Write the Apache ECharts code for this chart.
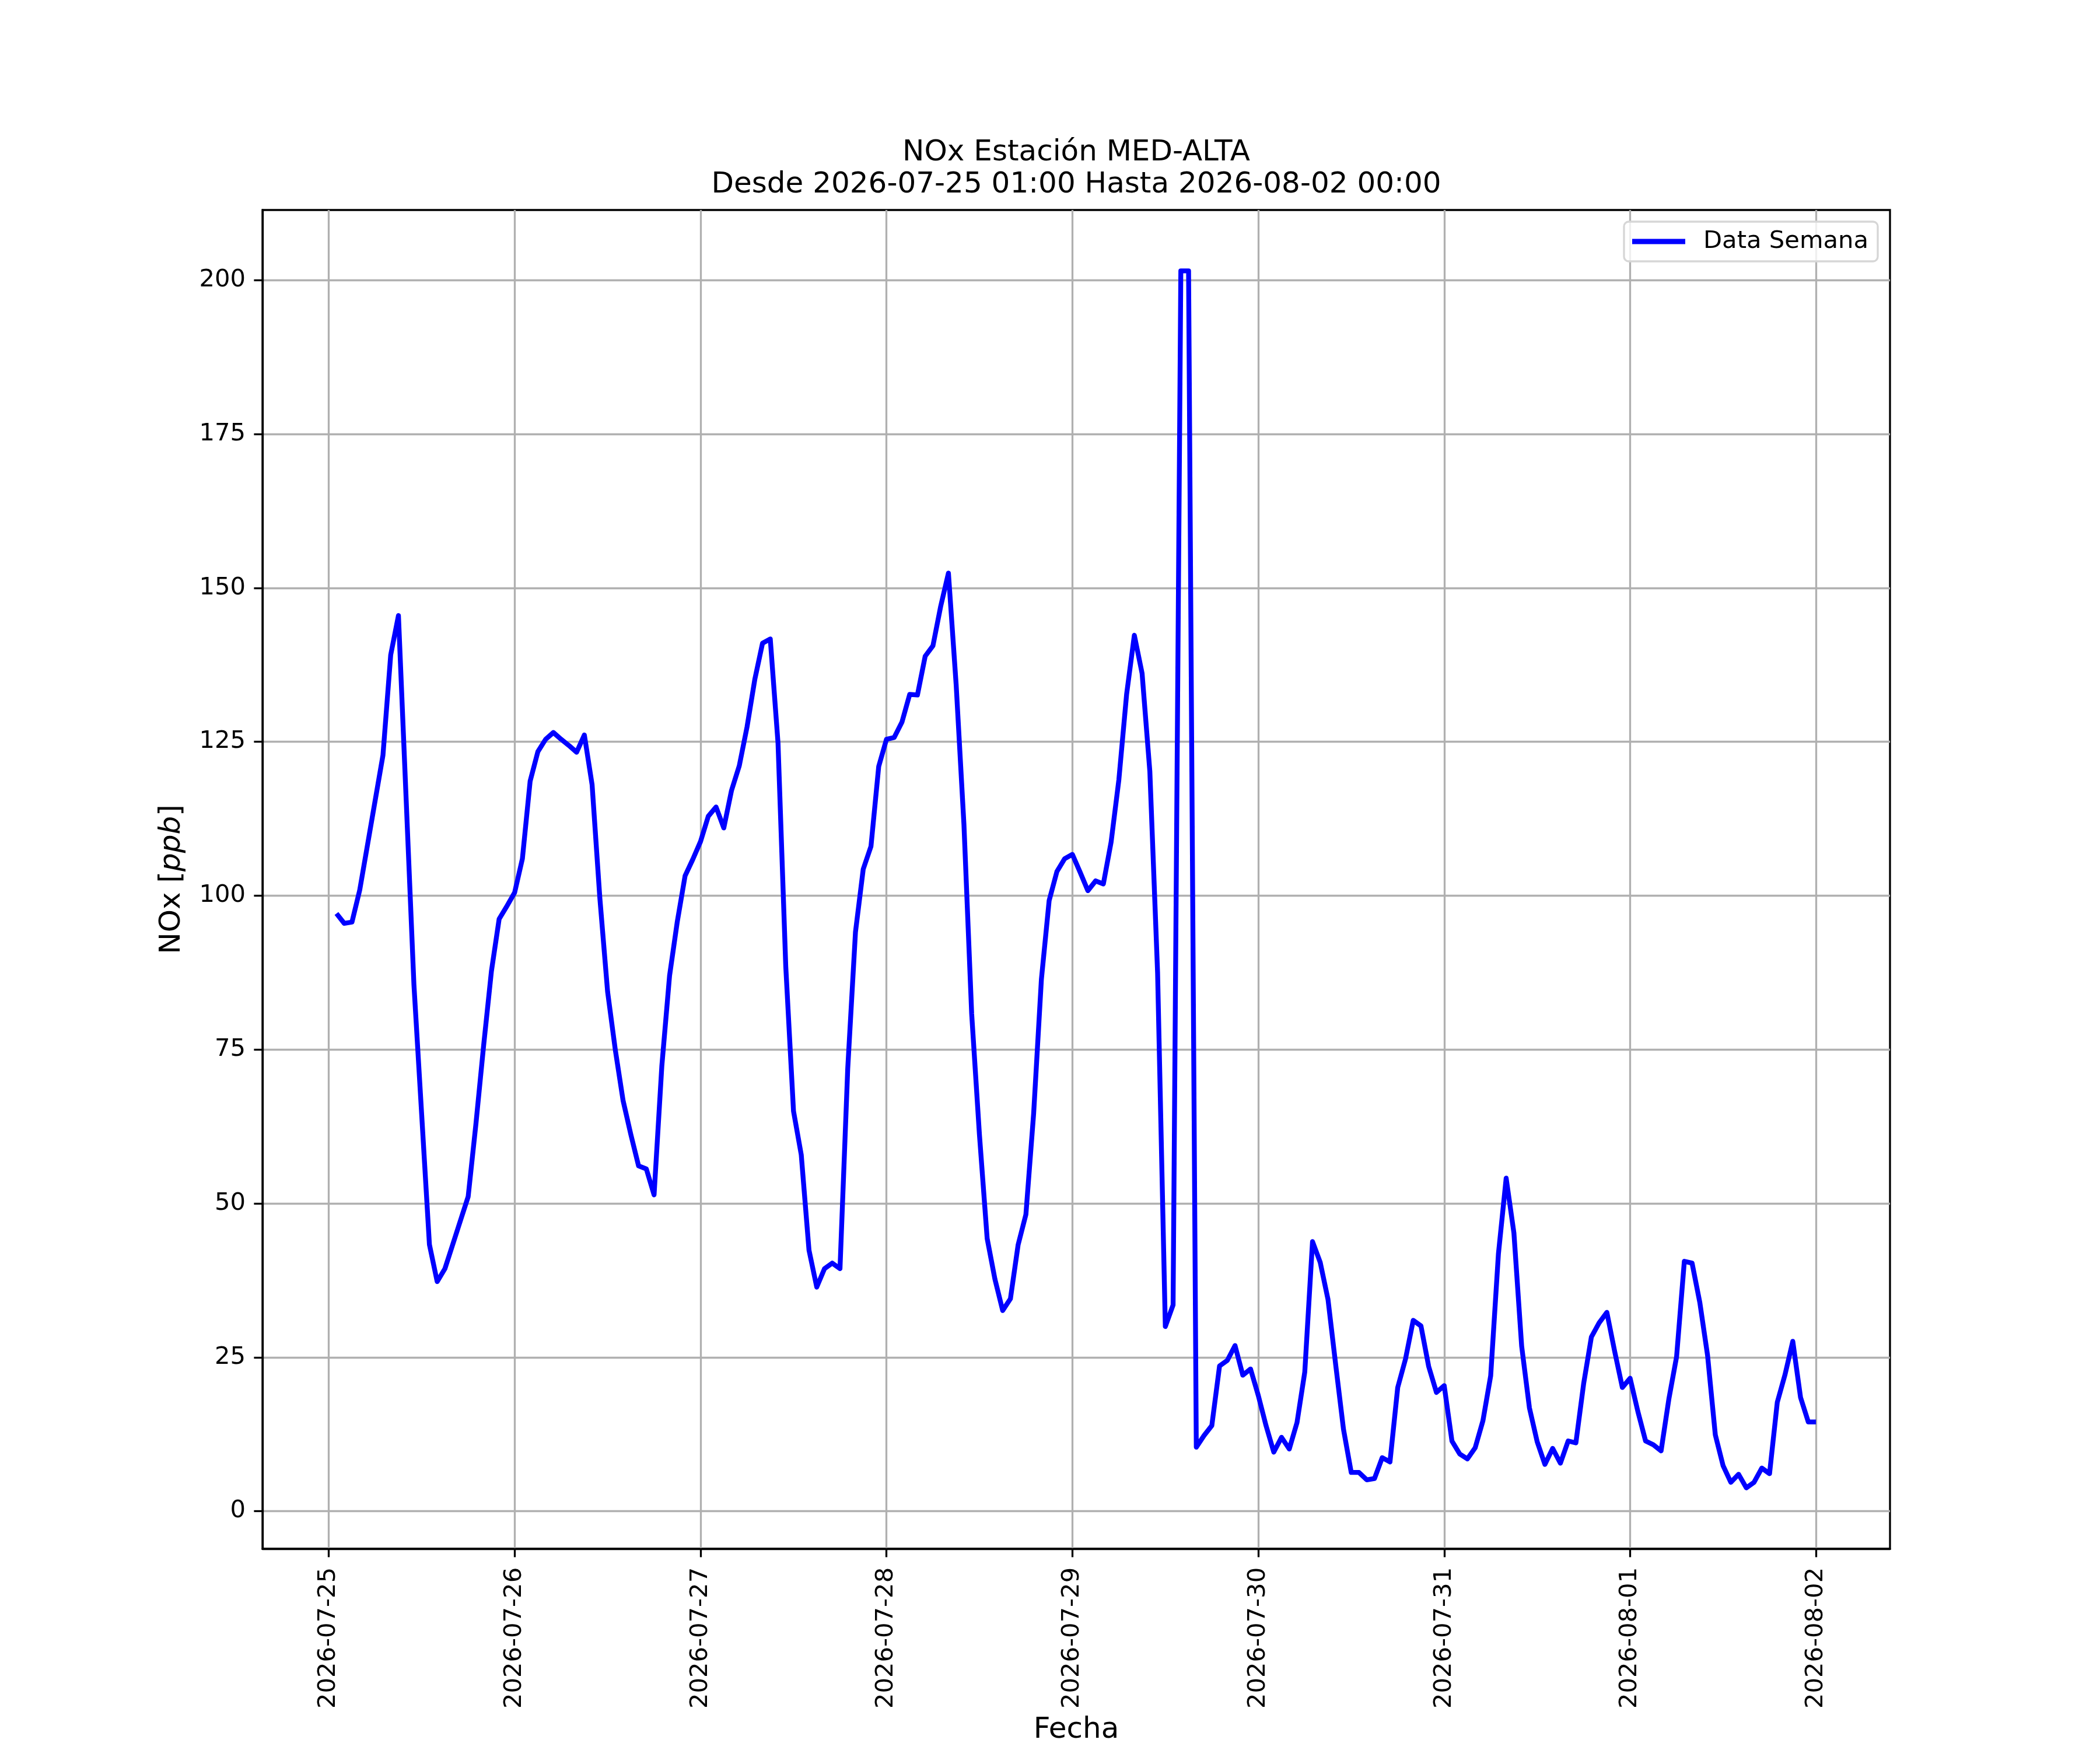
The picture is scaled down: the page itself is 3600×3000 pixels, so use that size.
<!DOCTYPE html>
<html>
<head>
<meta charset="utf-8">
<title>NOx Estación MED-ALTA</title>
<script src="https://cdn.jsdelivr.net/npm/echarts@6/dist/echarts.min.js"></script>
<style>
  html, body { margin: 0; padding: 0; background: #fff; }
  #chart { width: 3600px; height: 3000px; }
</style>
</head>
<body>
<div id="chart"></div>
<script>
// hourly NOx readings, 2026-07-25 01:00 .. 2026-08-02 00:00
var nox = [
    97.1, 95.5, 95.7, 100.9, 108.2, 115.5, 122.8, 139.1, 145.5, 115.5, 85.5, 64.4,
    43.3, 37.3, 39.4, 43.3, 47.2, 51.1, 62.9, 75.7, 87.7, 96.2, 98.3, 100.5,
    106.0, 118.6, 123.4, 125.4, 126.5, 125.4, 124.4, 123.3, 126.1, 118.0, 99.6, 84.4,
    74.9, 66.7, 61.2, 56.1, 55.6, 51.4, 72.3, 87.0, 95.8, 103.2, 105.9, 108.8,
    112.9, 114.4, 111.0, 117.1, 121.1, 127.4, 135.1, 141.0, 141.7, 124.8, 88.5, 65.0,
    57.9, 42.4, 36.4, 39.4, 40.3, 39.4, 71.9, 94.1, 104.3, 108.0, 121.0, 125.4,
    125.7, 128.2, 132.7, 132.6, 138.9, 140.6, 147.0, 152.4, 134.2, 111.6, 80.8, 61.2,
    44.3, 37.7, 32.6, 34.5, 43.3, 48.2, 64.6, 86.4, 99.2, 103.9, 106.0, 106.7,
    103.8, 100.8, 102.4, 101.9, 108.7, 118.8, 132.7, 142.3, 136.1, 120.2, 87.5, 30.0,
    33.5, 201.5, 201.5, 10.4, 12.3, 13.9, 23.6, 24.5, 26.9, 22.1, 23.1, 18.8,
    13.9, 9.6, 12.0, 10.1, 14.4, 22.6, 43.8, 40.4, 34.4, 23.7, 13.3, 6.3,
    6.3, 5.1, 5.3, 8.7, 8.0, 20.1, 24.7, 31.0, 30.1, 23.5, 19.3, 20.4,
    11.4, 9.3, 8.5, 10.3, 14.7, 22.0, 41.8, 54.1, 45.2, 26.8, 16.8, 11.3,
    7.6, 10.2, 7.8, 11.4, 11.1, 20.7, 28.3, 30.6, 32.3, 26.0, 20.1, 21.6,
    16.2, 11.4, 10.8, 9.8, 18.2, 25.1, 40.6, 40.3, 33.9, 25.3, 12.4, 7.4,
    4.7, 6.0, 3.8, 4.7, 7.0, 6.1, 17.7, 22.2, 27.6, 18.5, 14.5, 14.5
];
var dayLabels = ['2026-07-25', '2026-07-26', '2026-07-27', '2026-07-28', '2026-07-29',
                 '2026-07-30', '2026-07-31', '2026-08-01', '2026-08-02'];
var dayTicks = [0, 24, 48, 72, 96, 120, 144, 168, 192];   // hours since 07-25 00:00
var yTicks = [0, 25, 50, 75, 100, 125, 150, 175, 200];

var titleLines = ['NOx Estación MED-ALTA', 'Desde 2026-07-25 01:00 Hasta 2026-08-02 00:00'];

// x in hours from 2026-07-25 00:00
var points = [];
for (var i = 0; i < nox.length; i++) {
    points.push([i + 1, nox[i]]);
}

var FONT = 'DejaVu Sans';
var tickFont = 41.7;

var chart = echarts.init(document.getElementById('chart'), null, { renderer: 'canvas' });

chart.setOption({
    animation: false,
    backgroundColor: '#ffffff',
    textStyle: { fontFamily: FONT, color: '#000' },
    graphic: [
        { type: 'text', x: 1845, y: 262,
          style: { text: titleLines[0], font: '50px "DejaVu Sans"', fill: '#000', align: 'center', verticalAlign: 'middle' } },
        { type: 'text', x: 1845, y: 317,
          style: { text: titleLines[1], font: '50px "DejaVu Sans"', fill: '#000', align: 'center', verticalAlign: 'middle' } }
    ],
    grid: {
        left: 450, right: 360, top: 360, bottom: 330,
        show: true, borderColor: '#000', borderWidth: 3.3, backgroundColor: 'transparent'
    },
    legend: {
        right: 381, top: 380,
        padding: [13, 16, 13, 14],
        backgroundColor: 'rgba(255,255,255,0.8)',
        borderColor: '#d6d6d6', borderWidth: 3.3, borderRadius: 8,
        icon: 'rect', itemWidth: 91, itemHeight: 9,
        textStyle: { fontFamily: FONT, fontSize: tickFont, color: '#000', padding: [0, 0, 0, 26] },
        data: ['Data Semana']
    },
    xAxis: {
        type: 'value',
        min: -8.55, max: 201.55,
        name: 'Fecha', nameLocation: 'middle', nameGap: 280,
        nameTextStyle: { fontFamily: FONT, fontSize: 50, color: '#000', lineHeight: 58 },
        axisLine: { show: true, onZero: false, lineStyle: { color: '#000', width: 3.3 } },
        axisTick: { show: true, length: 14.6, customValues: dayTicks, lineStyle: { color: '#000', width: 3.3 } },
        axisLabel: {
            customValues: dayTicks, rotate: 90, margin: 32,
            fontFamily: FONT, fontSize: tickFont, color: '#000',
            formatter: function (v) { return dayLabels[Math.round(v / 24)]; }
        },
        splitLine: { show: true, lineStyle: { color: '#b0b0b0', width: 3.3 } }
    },
    yAxis: {
        type: 'value',
        min: -6.085, max: 211.385,
        name: 'NOx [{i|ppb}]', nameLocation: 'middle', nameGap: 126, nameRotate: 90,
        nameTextStyle: {
            fontFamily: FONT, fontSize: 50, color: '#000', lineHeight: 58,
            rich: { i: { fontFamily: FONT, fontSize: 50, fontStyle: 'italic', color: '#000', lineHeight: 58 } }
        },
        axisLine: { show: true, onZero: false, lineStyle: { color: '#000', width: 3.3 } },
        axisTick: { show: true, length: 14.6, customValues: yTicks, lineStyle: { color: '#000', width: 3.3 } },
        axisLabel: {
            customValues: yTicks, margin: 29,
            fontFamily: FONT, fontSize: tickFont, color: '#000',
            formatter: function (v) { return String(Math.round(v)); }
        },
        splitLine: { show: true, lineStyle: { color: '#b0b0b0', width: 3.3 } }
    },
    series: [{
        name: 'Data Semana',
        type: 'line',
        data: points,
        showSymbol: false,
        symbol: 'none',
        sampling: null,
        color: '#0000ff',
        lineStyle: { color: '#0000ff', width: 8.33, join: 'round', cap: 'butt' },
        emphasis: { disabled: true }
    }]
});
</script>
</body>
</html>
